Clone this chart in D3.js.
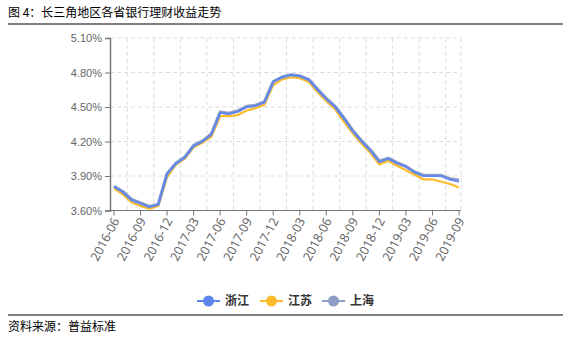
<!DOCTYPE html>
<head>
	<meta charset="utf-8">
	<style>
		body { margin: 0; background: #fff; }
		svg { font-family: "Noto Sans", "Noto Sans CJK SC", sans-serif; }
		.grid line { stroke: #ddd; stroke-dasharray: 4,3; }
		.axis text { fill: #666; font-size: 11px; }
		.axis path, .axis line { stroke: #777; }
	</style>
</head>
<body>
	<svg width="570" height="338"></svg>
	<script src="https://d3js.org/d3.v7.min.js"></script>
	<script>

		var months = ["2016-06","2016-07","2016-08","2016-09","2016-10","2016-11","2016-12",
			"2017-01","2017-02","2017-03","2017-04","2017-05","2017-06","2017-07","2017-08","2017-09","2017-10","2017-11","2017-12",
			"2018-01","2018-02","2018-03","2018-04","2018-05","2018-06","2018-07","2018-08","2018-09","2018-10","2018-11","2018-12",
			"2019-01","2019-02","2019-03","2019-04","2019-05","2019-06","2019-07","2019-08","2019-09"];

		var zhejiang = [3.81,3.76,3.69,3.66,3.63,3.65,3.92,
			4.01,4.06,4.16,4.20,4.26,4.45,4.44,4.46,4.50,4.51,4.54,4.72,
			4.76,4.78,4.77,4.74,4.65,4.57,4.50,4.40,4.29,4.20,4.12,4.02,
			4.05,4.01,3.98,3.93,3.90,3.90,3.90,3.87,3.85];
		var jiangsu = [3.79,3.74,3.67,3.64,3.615,3.64,3.89,
			4.00,4.05,4.15,4.19,4.24,4.42,4.42,4.43,4.47,4.49,4.52,4.69,
			4.74,4.76,4.75,4.72,4.63,4.55,4.48,4.37,4.27,4.18,4.10,4.00,
			4.03,3.99,3.95,3.91,3.87,3.87,3.85,3.83,3.80];
		var shanghai = [3.81,3.765,3.695,3.665,3.635,3.655,3.92,
			4.01,4.065,4.165,4.205,4.265,4.455,4.445,4.465,4.505,4.515,4.545,4.72,
			4.76,4.78,4.77,4.74,4.655,4.575,4.505,4.405,4.295,4.205,4.125,4.03,
			4.055,4.015,3.985,3.935,3.905,3.905,3.905,3.875,3.865];

		var yTicks = [3.6, 3.9, 4.2, 4.5, 4.8, 5.1];
		var xTickLabels = months.filter(function (d, i) { return i % 3 == 0; });

		var series = [
			{ name: "江苏", values: jiangsu, color: "#FDBA2C" },
			{ name: "上海", values: shanghai, color: "#8E9DC6" },
			{ name: "浙江", values: zhejiang, color: "#5A86EE" }
		];
		var legendOrder = ["浙江", "江苏", "上海"];

		var svg = d3.select("svg"),
			pLeft = 110, pRight = 461, pTop = 38, pBottom = 210.5;

		var x = d3.scaleLinear().domain([0, months.length - 1]).range([114, 459]);
		var y = d3.scaleLinear().domain([3.6, 5.1]).range([pBottom, pTop]);

		// Title and source
		svg.append("text").attr("x", 8).attr("y", 17)
			.attr("font-family", "Noto Sans CJK SC").attr("font-size", 12).attr("fill", "#000")
			.text("图 4：长三角地区各省银行理财收益走势");
		svg.append("line").attr("x1", 8).attr("x2", 563).attr("y1", 24).attr("y2", 24)
			.attr("stroke", "#000").attr("stroke-width", 1.2);
		svg.append("line").attr("x1", 8).attr("x2", 563).attr("y1", 315).attr("y2", 315)
			.attr("stroke", "#000").attr("stroke-width", 1.2);
		svg.append("text").attr("x", 8).attr("y", 331)
			.attr("font-family", "Noto Sans CJK SC").attr("font-size", 12).attr("fill", "#000")
			.text("资料来源：普益标准");

		// Grid
		var grid = svg.append("g").attr("class", "grid");
		grid.selectAll(".h").data(yTicks.slice(1)).enter().append("line")
			.attr("x1", pLeft).attr("x2", pRight)
			.attr("y1", y).attr("y2", y);
		var vIdx = d3.range(1.5, months.length - 1, 3);
		grid.selectAll(".v").data(vIdx).enter().append("line")
			.attr("x1", x).attr("x2", x)
			.attr("y1", pTop).attr("y2", pBottom);
		grid.append("line").attr("x1", pRight).attr("x2", pRight).attr("y1", pTop).attr("y2", pBottom);

		// Y axis
		var yAxis = svg.append("g").attr("class", "axis")
			.attr("transform", "translate(" + pLeft + ",0)")
			.call(d3.axisLeft(y).tickValues(yTicks).tickSize(5).tickPadding(3)
				.tickFormat(function (d) { return d.toFixed(2) + "%"; }));
		yAxis.select(".domain").attr("stroke", "#888").attr("stroke-width", 1.5);

		// X axis
		var xAxis = svg.append("g").attr("class", "axis")
			.attr("transform", "translate(0," + pBottom + ")");
		xAxis.append("line").attr("x1", pLeft).attr("x2", pRight).attr("stroke", "#777");
		var xt = xAxis.selectAll(".tick").data(xTickLabels).enter().append("g")
			.attr("transform", function (d) { return "translate(" + x(months.indexOf(d)) + ",0)"; });
		xt.append("line").attr("y2", 5);
		xt.append("text")
			.attr("transform", "translate(2,8) rotate(-62)")
			.attr("text-anchor", "end").attr("dy", "0.35em")
			.style("font-size", "12.5px")
			.text(String);

		// Lines
		var line = d3.line()
			.x(function (d, i) { return x(i); })
			.y(function (d) { return y(d); });
		svg.selectAll(".series").data(series).enter().append("path")
			.attr("fill", "none")
			.attr("stroke", function (d) { return d.color; })
			.attr("stroke-width", function (d) { return d.name == "上海" ? 3.2 : 2.2; })
			.attr("stroke-linejoin", "round")
			.attr("opacity", function (d) { return d.name == "浙江" ? 0.85 : 1; })
			.attr("d", function (d) { return line(d.values); });

		// Legend
		var lx = [197, 260, 322];
		var lg = svg.selectAll(".legend").data(legendOrder).enter().append("g")
			.attr("transform", function (d, i) { return "translate(" + lx[i] + ",301)"; });
		lg.append("line").attr("x1", 0).attr("x2", 23)
			.attr("stroke", function (d) { return series.find(function (s) { return s.name == d; }).color; })
			.attr("stroke-width", 2);
		lg.append("circle").attr("cx", 11.5).attr("r", 5.5)
			.attr("fill", function (d) { return series.find(function (s) { return s.name == d; }).color; });
		lg.append("text").attr("x", 28).attr("dy", "0.35em")
			.attr("font-family", "Noto Sans CJK SC").attr("font-weight", "bold")
			.attr("font-size", 12).attr("fill", "#333")
			.text(String);

	</script>
</body>
